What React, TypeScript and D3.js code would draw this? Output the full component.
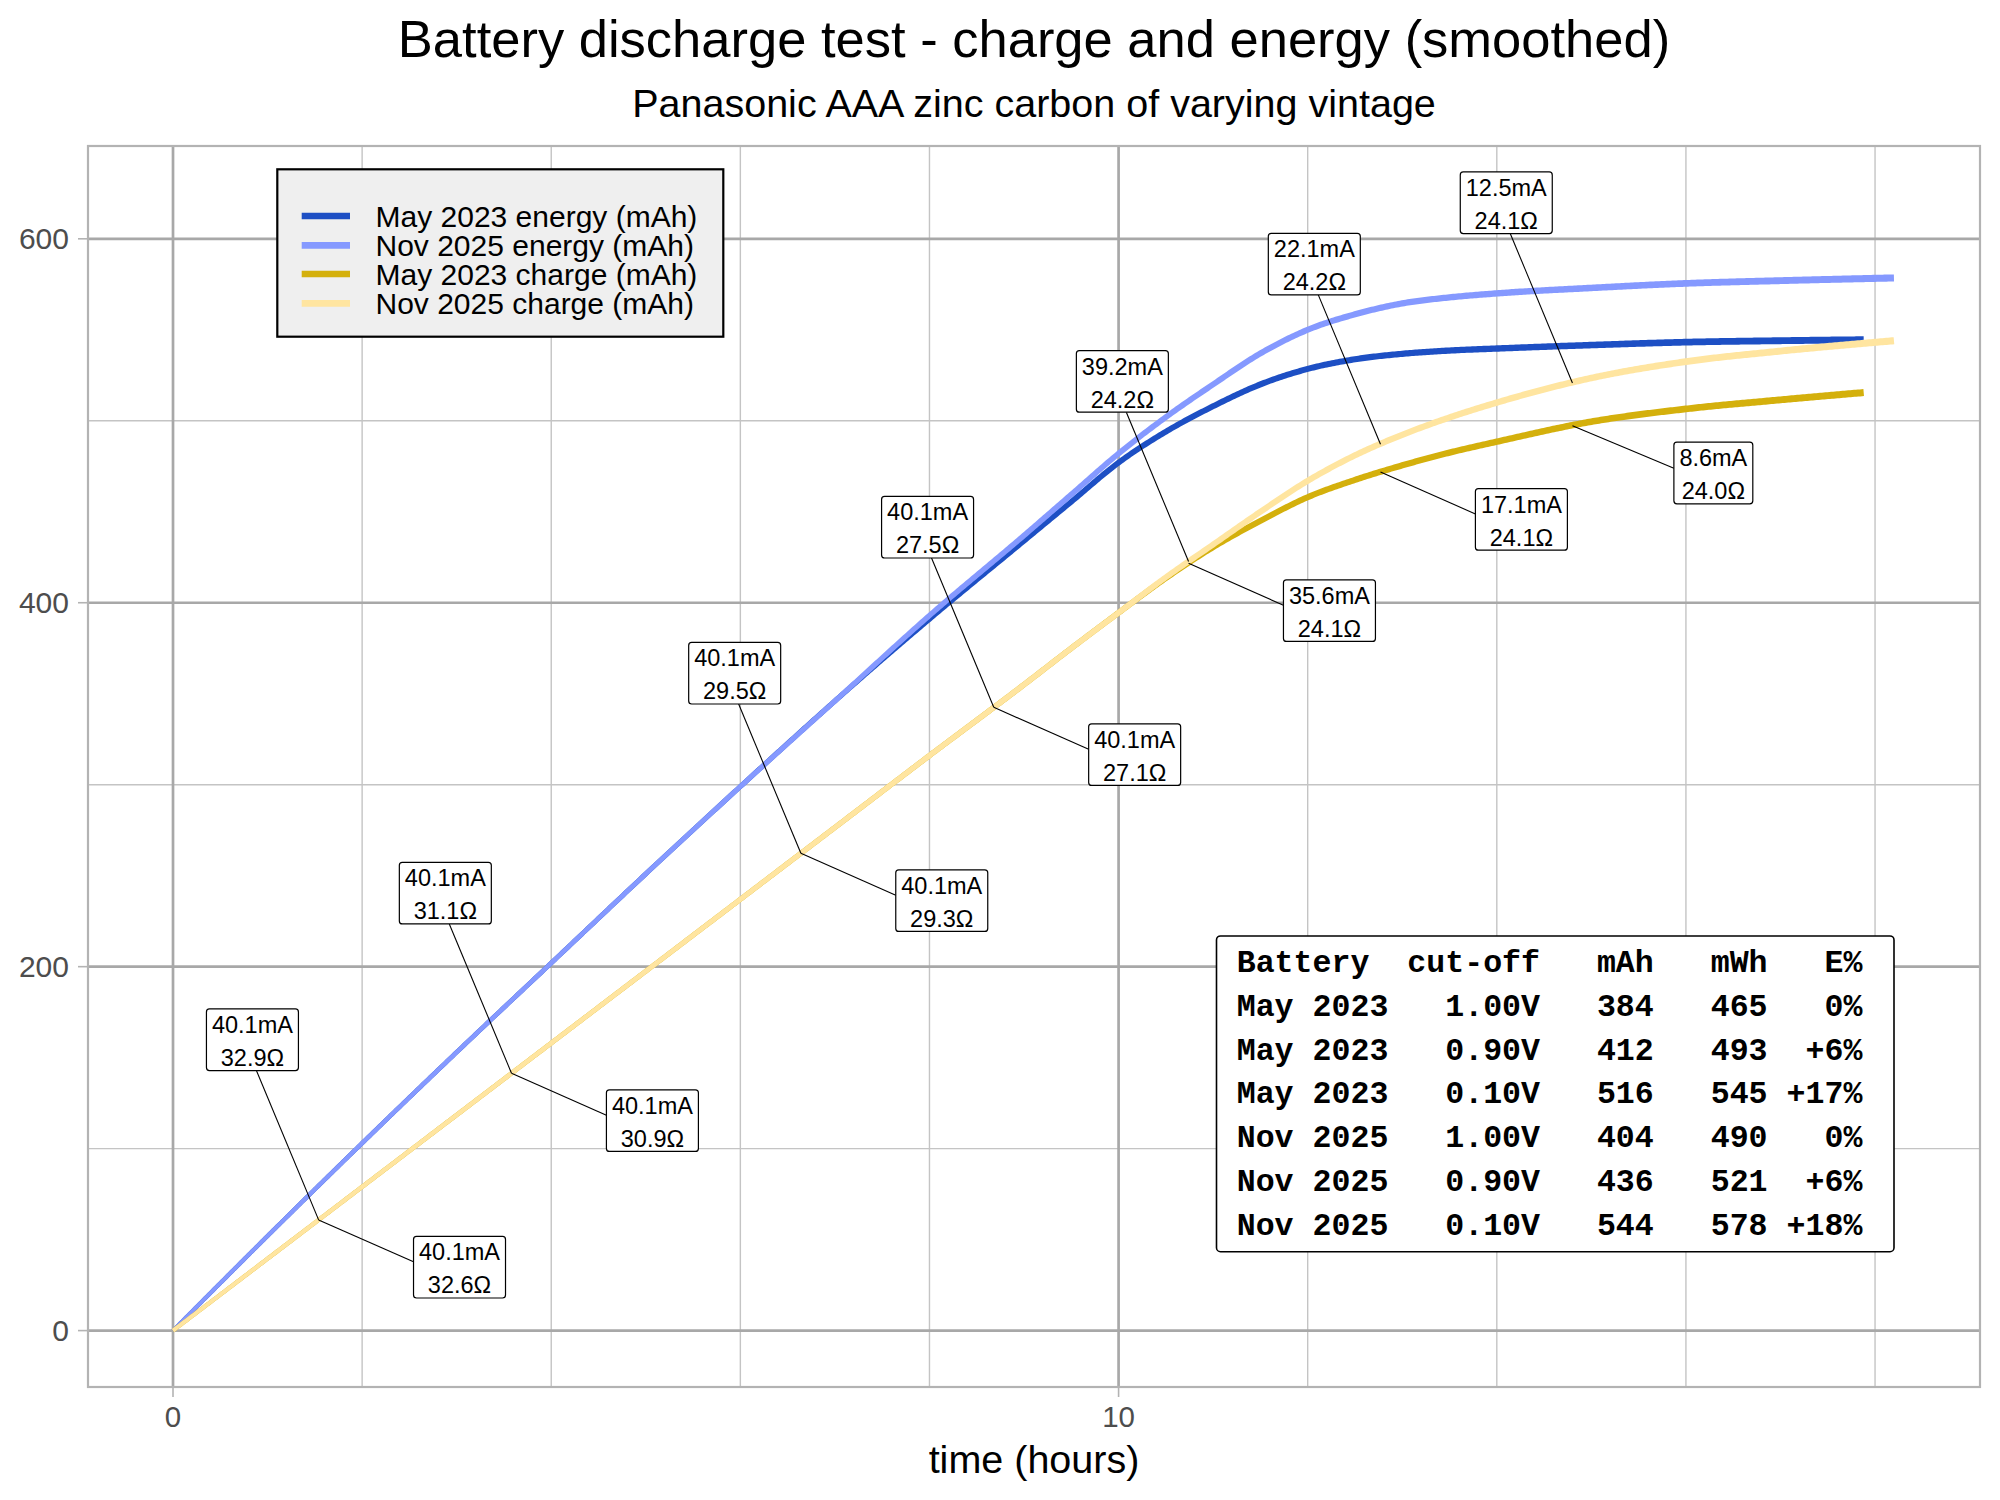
import React from "react";
import * as d3 from "d3";

// ---------- data ----------
const mayTime = [0, 1, 2, 3, 4, 5, 6, 7, 8, 9, 9.5, 10, 10.5, 11, 11.5, 12, 12.5, 13, 13.5, 14, 15, 16, 17, 17.88];
const mayEnergy = [0, 52, 103, 153, 202, 251, 299, 346, 391, 434, 455.5, 477, 494, 508, 520, 528.5, 533.8, 536.8, 538.6, 539.7, 541.6, 543.2, 544, 544.5];
const mayCharge = [0, 39.5, 79, 118.5, 158, 197.5, 237, 276.5, 316, 355, 375, 394.5, 413.5, 430.5, 445, 458, 467.5, 475.5, 482.5, 488.5, 499.5, 506.5, 511.5, 515.5];

const novTime = [0, 1, 2, 3, 4, 5, 6, 7, 8, 9, 9.5, 10, 10.5, 11, 11.5, 12, 12.5, 13, 13.5, 14, 15, 16, 17, 18.2];
const novEnergy = [0, 52, 103, 153, 202, 251, 299, 346, 393, 437, 459.5, 482, 502, 520, 537, 550, 558.5, 564.5, 567.8, 570, 573, 575.5, 577, 578.5];
const novCharge = [0, 39.5, 79, 118.5, 158, 197.5, 237, 276.5, 316, 355, 375, 394.5, 414, 432, 450, 467, 481, 492.3, 501.8, 510, 523.5, 532.5, 538.3, 544];

const seriesNames = ["May 2023 energy (mAh)", "Nov 2025 energy (mAh)", "May 2023 charge (mAh)", "Nov 2025 charge (mAh)"];
const seriesColors = ["#1d4fc4", "#8599ff", "#d4b00c", "#ffe5a0"];

const labelTime = [1.54, 3.58, 6.64, 8.68, 10.74, 12.77, 14.8];
const novLabelCurrent = [40.1, 40.1, 40.1, 40.1, 39.2, 22.1, 12.5];
const novLabelOhm = [32.9, 31.1, 29.5, 27.5, 24.2, 24.2, 24.1];
const mayLabelCurrent = [40.1, 40.1, 40.1, 40.1, 35.6, 17.1, 8.6];
const mayLabelOhm = [32.6, 30.9, 29.3, 27.1, 24.1, 24.1, 24.0];

const xMajor = [0, 10];
const xMinor = [2, 4, 6, 8, 12, 14, 16, 18];
const yMajor = [0, 200, 400, 600];
const yMinor = [100, 300, 500];

const tableHeader = ["Battery", "cut-off", "mAh", "mWh", "E%"];
const tableBattery = ["May 2023", "May 2023", "May 2023", "Nov 2025", "Nov 2025", "Nov 2025"];
const tableCutoff = ["1.00V", "0.90V", "0.10V", "1.00V", "0.90V", "0.10V"];
const tableMAh = [384, 412, 516, 404, 436, 544];
const tableMWh = [465, 493, 545, 490, 521, 578];
const tableE = ["0%", "+6%", "+17%", "0%", "+6%", "+18%"];

const titleText = "Battery discharge test - charge and energy (smoothed)";
const subtitleText = "Panasonic AAA zinc carbon of varying vintage";
const xTitle = "time (hours)";

// ---------- layout ----------
const W = 2000, H = 1500;
const P = { left: 88, right: 1980, top: 146, bottom: 1387 };
const FONT = "'Liberation Sans', Arial, Helvetica, sans-serif";
const MONO = "'Liberation Mono', 'Courier New', monospace";
const LABEL_FS = 23.5;
const widthAt = (t: number) => 4.0 + 0.17 * t;

function interp(ts: number[], vs: number[], t: number) {
  for (let i = 1; i < ts.length; i++) {
    if (t <= ts[i]) {
      const f = (t - ts[i - 1]) / (ts[i] - ts[i - 1]);
      return vs[i - 1] + f * (vs[i] - vs[i - 1]);
    }
  }
  return vs[vs.length - 1];
}

// monotone cubic (Fritsch-Carlson, same as d3.curveMonotoneX) dense sampling
function sampleMonotone(xs: number[], ys: number[], step: number): [number, number][] {
  const n = xs.length;
  const h: number[] = [], s: number[] = [];
  for (let i = 0; i < n - 1; i++) {
    h.push(xs[i + 1] - xs[i]);
    s.push((ys[i + 1] - ys[i]) / h[i]);
  }
  const tg: number[] = new Array(n).fill(0);
  for (let i = 1; i < n - 1; i++) {
    const s0 = s[i - 1], s1 = s[i], h0 = h[i - 1], h1 = h[i];
    const p = (s0 * h1 + s1 * h0) / (h0 + h1);
    tg[i] = (Math.sign(s0) + Math.sign(s1)) * Math.min(Math.abs(s0), Math.abs(s1), 0.5 * Math.abs(p)) || 0;
  }
  tg[0] = n > 2 ? (3 * s[0] - tg[1]) / 2 : s[0];
  tg[n - 1] = n > 2 ? (3 * s[n - 2] - tg[n - 2]) / 2 : s[0];
  const out: [number, number][] = [];
  for (let i = 0; i < n - 1; i++) {
    const k = Math.max(2, Math.ceil(h[i] / step));
    for (let j = 0; j < k; j++) {
      const u = j / k;
      const h00 = 2 * u ** 3 - 3 * u ** 2 + 1;
      const h10 = u ** 3 - 2 * u ** 2 + u;
      const h01 = -2 * u ** 3 + 3 * u ** 2;
      const h11 = u ** 3 - u ** 2;
      out.push([xs[i] + u * h[i], h00 * ys[i] + h10 * h[i] * tg[i] + h01 * ys[i + 1] + h11 * h[i] * tg[i + 1]]);
    }
  }
  out.push([xs[n - 1], ys[n - 1]]);
  return out;
}

let ctx: CanvasRenderingContext2D | null = null;
function measure(text: string, font: string) {
  if (!ctx) ctx = document.createElement("canvas").getContext("2d");
  if (!ctx) return text.length * 12;
  ctx.font = font;
  return ctx.measureText(text).width;
}

export default function App() {
  const x = d3.scaleLinear().domain([-0.899, 19.11]).range([P.left, P.right]);
  const y = d3.scaleLinear().domain([-31, 651]).range([P.bottom, P.top]);

  const series = [
    { t: mayTime, v: mayEnergy },
    { t: novTime, v: novEnergy },
    { t: mayTime, v: mayCharge },
    { t: novTime, v: novCharge },
  ];

  // ribbon polygons with width growing over time
  const ribbons = series.map((s) => {
    const pts = sampleMonotone(s.t, s.v, 0.02);
    const px = pts.map(([t, v]) => [x(t), y(v), t] as [number, number, number]);
    const left: [number, number][] = [], right: [number, number][] = [];
    for (let i = 0; i < px.length; i++) {
      const a = px[Math.max(0, i - 1)], b = px[Math.min(px.length - 1, i + 1)];
      let dx = b[0] - a[0], dy = b[1] - a[1];
      const len = Math.hypot(dx, dy) || 1;
      dx /= len; dy /= len;
      const w = widthAt(px[i][2]) / 2;
      left.push([px[i][0] - dy * w, px[i][1] + dx * w]);
      right.push([px[i][0] + dy * w, px[i][1] - dx * w]);
    }
    const poly = left.concat(right.reverse());
    return "M" + poly.map((p) => `${p[0].toFixed(2)},${p[1].toFixed(2)}`).join("L") + "Z";
  });

  // labels
  type Lab = { px: number; py: number; cx: number; cy: number; l1: string; l2: string };
  const labels: Lab[] = [];
  labelTime.forEach((t, i) => {
    const vn = interp(novTime, novCharge, t);
    const vm = interp(mayTime, mayCharge, t);
    labels.push({
      px: x(t), py: y(vn), cx: x(t - 0.7), cy: y(vn + 99),
      l1: `${novLabelCurrent[i].toFixed(1)}mA`, l2: `${novLabelOhm[i].toFixed(1)}Ω`,
    });
    labels.push({
      px: x(t), py: y(vm), cx: x(t + 1.49), cy: y(vm - 26),
      l1: `${mayLabelCurrent[i].toFixed(1)}mA`, l2: `${mayLabelOhm[i].toFixed(1)}Ω`,
    });
  });

  const labelFont = `${LABEL_FS}px ${FONT}`;
  const boxH = 61.6;

  const labelEls = labels.map((lb, i) => {
    const tw = Math.max(measure(lb.l1, labelFont), measure(lb.l2, labelFont));
    const bw = tw + 11;
    const x0 = lb.cx - bw / 2, x1 = lb.cx + bw / 2;
    const y0 = lb.cy - boxH / 2, y1 = lb.cy + boxH / 2;
    const dx = lb.px - lb.cx, dy = lb.py - lb.cy;
    let ex: number, ey: number;
    if (Math.abs(dy) * bw > Math.abs(dx) * boxH) {
      ex = lb.cx + dx * ((boxH / 2) / Math.abs(dy)) * 0.35;
      ey = dy > 0 ? y1 : y0;
    } else {
      ex = dx > 0 ? x1 : x0;
      ey = lb.cy + dy * ((bw / 2) / Math.abs(dx)) * 0.35;
    }
    return (
      <g key={`lab${i}`}>
        <line x1={lb.px} y1={lb.py} x2={ex} y2={ey} stroke="#000" strokeWidth={1.1} />
        <rect x={x0} y={y0} width={bw} height={boxH} rx={3} ry={3} fill="#fff" stroke="#000" strokeWidth={1.2} />
        <text x={lb.cx} y={lb.cy - 6.8} textAnchor="middle" fontFamily={FONT} fontSize={LABEL_FS} fill="#000">{lb.l1}</text>
        <text x={lb.cx} y={lb.cy + 26.2} textAnchor="middle" fontFamily={FONT} fontSize={LABEL_FS} fill="#000">{lb.l2}</text>
      </g>
    );
  });

  // table
  const tableLines = [
    tableHeader[0].padEnd(8) + tableHeader[1].padStart(8) + tableHeader[2].padStart(6) + tableHeader[3].padStart(6) + tableHeader[4].padStart(5),
    ...tableBattery.map(
      (b, i) =>
        b.padEnd(8) + tableCutoff[i].padStart(8) + String(tableMAh[i]).padStart(6) + String(tableMWh[i]).padStart(6) + tableE[i].padStart(5)
    ),
  ];

  const legendRows = [216, 245.3, 274, 303.3];

  return (
    <div style={{ position: "absolute", left: 0, top: 0, width: W, height: H, background: "#fff" }}>
      <svg width={W} height={H} viewBox={`0 0 ${W} ${H}`} style={{ display: "block" }}>
        <rect x={0} y={0} width={W} height={H} fill="#fff" />
        {/* minor grid */}
        {xMinor.map((v) => (
          <line key={`xm${v}`} x1={x(v)} x2={x(v)} y1={P.top} y2={P.bottom} stroke="#c4c4c4" strokeWidth={1.4} />
        ))}
        {yMinor.map((v) => (
          <line key={`ym${v}`} x1={P.left} x2={P.right} y1={y(v)} y2={y(v)} stroke="#c4c4c4" strokeWidth={1.4} />
        ))}
        {/* major grid */}
        {xMajor.map((v) => (
          <line key={`xM${v}`} x1={x(v)} x2={x(v)} y1={P.top} y2={P.bottom} stroke="#a8a8a8" strokeWidth={2.7} />
        ))}
        {yMajor.map((v) => (
          <line key={`yM${v}`} x1={P.left} x2={P.right} y1={y(v)} y2={y(v)} stroke="#a8a8a8" strokeWidth={2.7} />
        ))}

        {/* series */}
        <g>
          {ribbons.map((d, i) => (
            <path key={`s${i}`} d={d} fill={seriesColors[i]} stroke="none" />
          ))}
        </g>

        {/* labels */}
        {labelEls}

        {/* panel border */}
        <rect x={P.left} y={P.top} width={P.right - P.left} height={P.bottom - P.top} fill="none" stroke="#b3b3b3" strokeWidth={2.2} />

        {/* axes ticks */}
        {yMajor.map((v) => (
          <g key={`yt${v}`}>
            <line x1={P.left - 10} x2={P.left} y1={y(v)} y2={y(v)} stroke="#b3b3b3" strokeWidth={1.6} />
            <text x={69} y={y(v) + 10.6} textAnchor="end" fontFamily={FONT} fontSize={30} fill="#4d4d4d">{v}</text>
          </g>
        ))}
        {xMajor.map((v) => (
          <g key={`xt${v}`}>
            <line x1={x(v)} x2={x(v)} y1={P.bottom} y2={P.bottom + 10} stroke="#b3b3b3" strokeWidth={1.6} />
            <text x={x(v)} y={1427} textAnchor="middle" fontFamily={FONT} fontSize={29.5} fill="#4d4d4d">{v}</text>
          </g>
        ))}

        {/* titles */}
        <text x={(P.left + P.right) / 2} y={57} textAnchor="middle" fontFamily={FONT} fontSize={52.5} fill="#000">{titleText}</text>
        <text x={(P.left + P.right) / 2} y={117} textAnchor="middle" fontFamily={FONT} fontSize={39.5} fill="#000">{subtitleText}</text>
        <text x={(P.left + P.right) / 2} y={1473} textAnchor="middle" fontFamily={FONT} fontSize={39.5} fill="#000">{xTitle}</text>

        {/* legend */}
        <g>
          <rect x={277.3} y={169.3} width={446} height={167.4} fill="#efefef" stroke="#000" strokeWidth={2.2} />
          {seriesNames.map((n, i) => (
            <g key={`lg${i}`}>
              <line x1={301.7} x2={350} y1={legendRows[i]} y2={legendRows[i]} stroke={seriesColors[i]} strokeWidth={6.7} />
              <text x={375.5} y={legendRows[i] + 10.8} fontFamily={FONT} fontSize={30} fill="#000">{n}</text>
            </g>
          ))}
        </g>

        {/* table */}
        <g>
          <rect x={1216.5} y={936} width={677.5} height={315.7} rx={4} ry={4} fill="#fff" stroke="#000" strokeWidth={1.6} />
          {tableLines.map((l, i) => (
            <text
              key={`tb${i}`}
              x={1236.7}
              y={971.7 + i * 43.9}
              fontFamily={MONO}
              fontWeight="bold"
              fontSize={31.6}
              fill="#000"
              style={{ whiteSpace: "pre" }}
              xmlSpace="preserve"
            >
              {l}
            </text>
          ))}
        </g>
      </svg>
    </div>
  );
}
